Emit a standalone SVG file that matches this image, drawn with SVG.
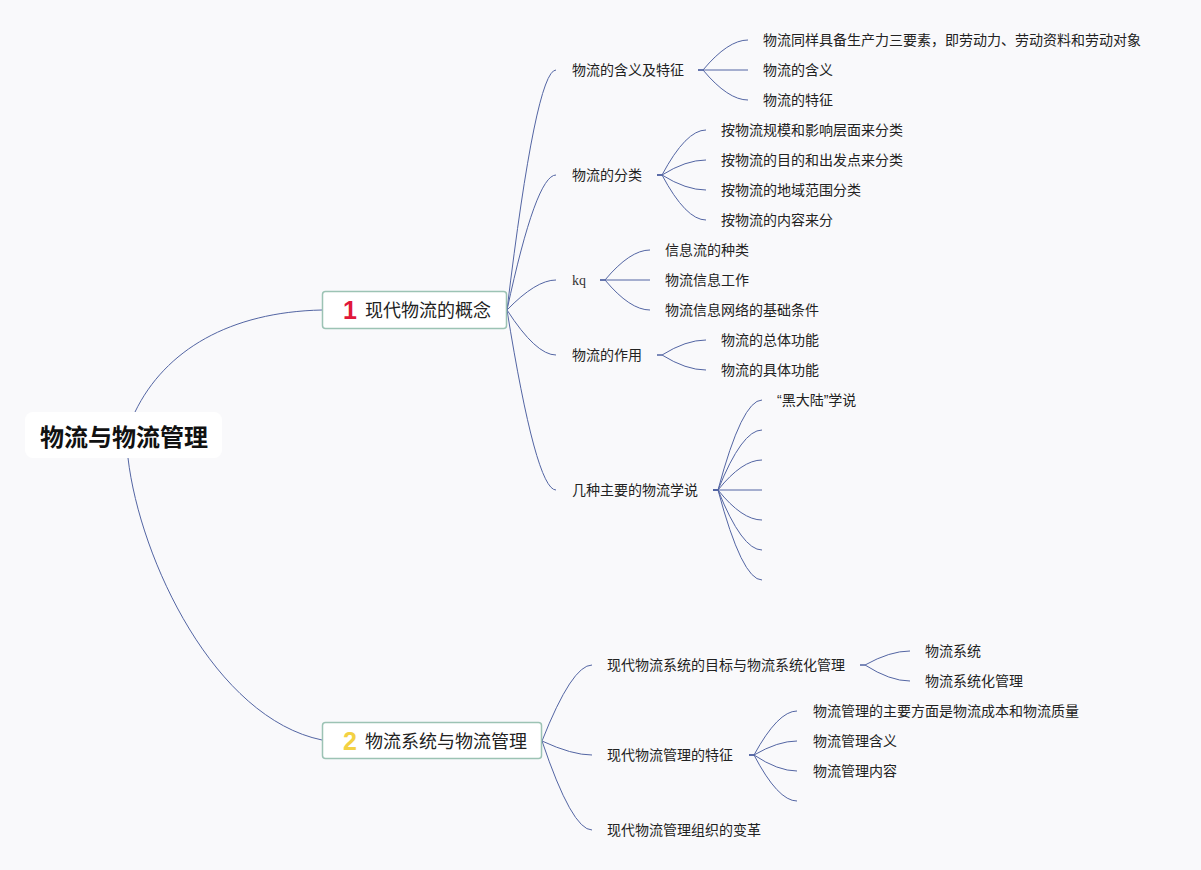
<svg xmlns="http://www.w3.org/2000/svg" width="1201" height="870" viewBox="0 0 1201 870">
<style>
  .bg { fill: #f9f9fb; }
  .conn path { fill: none; stroke: #5365a3; stroke-width: 1; }
  .t { font-family: "Noto Sans CJK SC", "Liberation Sans", sans-serif; font-size: 14px; fill: #222; }
  .lat { font-family: "Liberation Sans", "DejaVu Sans", sans-serif; }
  .kq { font-family: "Liberation Serif", "DejaVu Serif", serif; font-size: 14px; font-weight: normal; fill: #333; }
  .main { font-family: "Noto Sans CJK SC", "Liberation Sans", sans-serif; font-size: 18px; fill: #222; }
  .root { font-family: "Noto Sans CJK SC", "Liberation Sans", sans-serif; font-size: 24px; font-weight: bold; fill: #111; }
  .box { fill: #ffffff; stroke: #9cc3b4; stroke-width: 1.5; }
  .mark { font-family: "Liberation Sans", "DejaVu Sans", sans-serif; font-size: 25px; font-weight: bold; text-anchor: middle; }
</style>
<rect class="bg" x="0" y="0" width="1201" height="870"/>

<g id="connectors" class="conn">
  <!-- root -->
  <path d="M135,412 C165,350 230,312 322,310"/>
  <path d="M128,458 C140,560 215,718 322,740"/>
  <!-- node1 main branches -->
  <path d="M507,310 Q536,70 556,70"/>
  <path d="M507,310 Q536,175 556,175"/>
  <path d="M507,310 Q536,280 556,280"/>
  <path d="M507,310 Q536,355 556,355"/>
  <path d="M507,310 Q536,490 556,490"/>
  <!-- 物流的含义及特征 -->
  <path d="M698,70 h5 Q728,40 748,40"/>
  <path d="M698,70 H748"/>
  <path d="M698,70 h5 Q728,100 748,100"/>
  <!-- 物流的分类 -->
  <path d="M657,175 h5 Q686,130 706,130"/>
  <path d="M657,175 h5 Q686,160 706,160"/>
  <path d="M657,175 h5 Q686,190 706,190"/>
  <path d="M657,175 h5 Q686,220 706,220"/>
  <!-- kq -->
  <path d="M600,280 h5 Q630,250 650,250"/>
  <path d="M600,280 H650"/>
  <path d="M600,280 h5 Q630,310 650,310"/>
  <!-- 物流的作用 -->
  <path d="M657,355 h5 Q686,340 706,340"/>
  <path d="M657,355 h5 Q686,370 706,370"/>
  <!-- 几种主要的物流学说 -->
  <path d="M713,490 h5 Q742,400 762,400"/>
  <path d="M713,490 h5 Q742,430 762,430"/>
  <path d="M713,490 h5 Q742,460 762,460"/>
  <path d="M713,490 H762"/>
  <path d="M713,490 h5 Q742,520 762,520"/>
  <path d="M713,490 h5 Q742,550 762,550"/>
  <path d="M713,490 h5 Q742,580 762,580"/>
  <!-- node2 main branches -->
  <path d="M542,741 Q572,665 592,665"/>
  <path d="M542,741 Q572,755 592,755"/>
  <path d="M542,741 Q572,830 592,830"/>
  <!-- 现代物流系统的目标与物流系统化管理 -->
  <path d="M860,665 h5 Q890,651 910,651"/>
  <path d="M860,665 h5 Q890,681 910,681"/>
  <!-- 现代物流管理的特征 -->
  <path d="M749,755 h5 Q778,711 797,711"/>
  <path d="M749,755 h5 Q778,741 797,741"/>
  <path d="M749,755 h5 Q778,771 797,771"/>
  <path d="M749,755 h5 Q778,801 797,801"/>
</g>

<g id="root">
  <rect x="25" y="412" width="197" height="46" rx="8" fill="#ffffff"/>
  <text class="root" x="124" y="446" text-anchor="middle">物流与物流管理</text>
</g>

<g id="node1">
  <rect class="box" x="322.5" y="291.5" width="184" height="37" rx="3"/>
  <text class="mark" x="350" y="319" fill="#e0173a">1</text>
  <text class="main" x="365" y="316.5">现代物流的概念</text>
</g>

<g id="node2">
  <rect class="box" x="322.5" y="722.5" width="219" height="36" rx="3"/>
  <text class="mark" x="350" y="750" fill="#f3d143">2</text>
  <text class="main" x="365" y="747.5">物流系统与物流管理</text>
</g>

<g id="n1-1"><text class="t" x="572" y="75">物流的含义及特征</text></g>
<g id="n1-1-1"><text class="t" x="763" y="45">物流同样具备生产力三要素，即劳动力、劳动资料和劳动对象</text></g>
<g id="n1-1-2"><text class="t" x="763" y="75">物流的含义</text></g>
<g id="n1-1-3"><text class="t" x="763" y="105">物流的特征</text></g>

<g id="n1-2"><text class="t" x="572" y="180">物流的分类</text></g>
<g id="n1-2-1"><text class="t" x="721" y="135">按物流规模和影响层面来分类</text></g>
<g id="n1-2-2"><text class="t" x="721" y="165">按物流的目的和出发点来分类</text></g>
<g id="n1-2-3"><text class="t" x="721" y="195">按物流的地域范围分类</text></g>
<g id="n1-2-4"><text class="t" x="721" y="225">按物流的内容来分</text></g>

<g id="n1-3"><text class="kq" x="572" y="285">kq</text></g>
<g id="n1-3-1"><text class="t" x="665" y="255">信息流的种类</text></g>
<g id="n1-3-2"><text class="t" x="665" y="285">物流信息工作</text></g>
<g id="n1-3-3"><text class="t" x="665" y="315">物流信息网络的基础条件</text></g>

<g id="n1-4"><text class="t" x="572" y="360">物流的作用</text></g>
<g id="n1-4-1"><text class="t" x="721" y="345">物流的总体功能</text></g>
<g id="n1-4-2"><text class="t" x="721" y="375">物流的具体功能</text></g>

<g id="n1-5"><text class="t" x="572" y="495">几种主要的物流学说</text></g>
<g id="n1-5-1"><text class="t" x="777" y="405"><tspan class="lat">“</tspan>黑大陆<tspan class="lat">”</tspan>学说</text></g>

<g id="n2-1"><text class="t" x="607" y="670">现代物流系统的目标与物流系统化管理</text></g>
<g id="n2-1-1"><text class="t" x="925" y="656">物流系统</text></g>
<g id="n2-1-2"><text class="t" x="925" y="686">物流系统化管理</text></g>

<g id="n2-2"><text class="t" x="607" y="760">现代物流管理的特征</text></g>
<g id="n2-2-1"><text class="t" x="813" y="716">物流管理的主要方面是物流成本和物流质量</text></g>
<g id="n2-2-2"><text class="t" x="813" y="746">物流管理含义</text></g>
<g id="n2-2-3"><text class="t" x="813" y="776">物流管理内容</text></g>

<g id="n2-3"><text class="t" x="607" y="835">现代物流管理组织的变革</text></g>
</svg>
